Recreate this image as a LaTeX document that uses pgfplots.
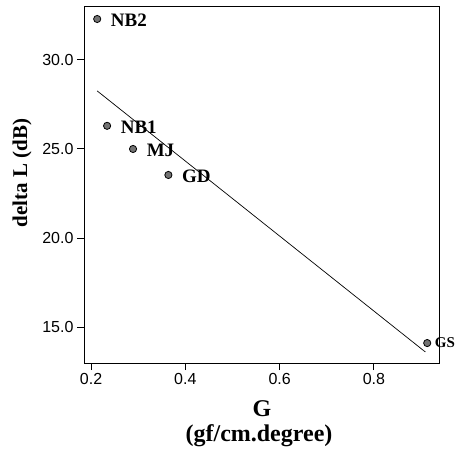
\documentclass[border=0pt]{standalone}
\usepackage{fontspec}
\setmainfont{Liberation Serif}
\newfontfamily\ticksans{Liberation Sans}
\usepackage{pgfplots}
\pgfplotsset{compat=1.18}
\begin{document}
\begin{tikzpicture}
\useasboundingbox (0,0) rectangle (468bp,457bp);
\begin{axis}[
  at={(84bp,94bp)}, anchor=south west,
  scale only axis, width=355bp, height=357bp,
  xmin=0.185, xmax=0.938, ymin=12.98, ymax=33.03,
  xtick={0.2,0.4,0.6,0.8}, ytick={15,20,25,30},
  tick align=outside, tick pos=left,
  major tick length=7bp,
  every tick/.style={black, line width=1pt},
  axis line style={line width=0.9pt},
  /pgf/number format/assume math mode=true,
  xticklabel style={/pgf/number format/.cd, fixed, precision=1, zerofill},
  yticklabel style={/pgf/number format/.cd, fixed, precision=1, zerofill},
  tick label style={font=\ticksans\fontsize{16bp}{18bp}\selectfont},
  clip=false,
]
\addplot[black, line width=0.7pt] coordinates {(0.213,28.26) (0.909,13.6)};
\addplot[only marks, mark=*, mark size=3.6bp, mark options={fill=black!55, draw=black, line width=0.8pt},
  nodes near coords, point meta=explicit symbolic,
  nodes near coords style={anchor=west, xshift=10bp, yshift=-1bp, font=\bfseries\fontsize{19bp}{21bp}\selectfont}]
  table[meta=label] {
x y label
0.213 32.3 NB2
0.234 26.3 NB1
0.289 25.0 MJ
0.364 23.54 GD
};
\addplot[only marks, mark=*, mark size=3.6bp, mark options={fill=black!55, draw=black, line width=0.8pt},
  nodes near coords, point meta=explicit symbolic,
  nodes near coords style={anchor=west, xshift=4bp, font=\bfseries\fontsize{15bp}{17bp}\selectfont}]
  table[meta=label] {
x y label
0.913 14.1 GS
};
\end{axis}
\node[font=\bfseries\fontsize{24bp}{26bp}\selectfont] at (262bp,48bp) {G};
\node[font=\bfseries\fontsize{24bp}{26bp}\selectfont] at (259bp,21bp) {(gf/cm.degree)};
\node[rotate=90, font=\bfseries\fontsize{21bp}{23bp}\selectfont] at (22bp,284bp) {delta L (dB)};
\end{tikzpicture}
\end{document}
